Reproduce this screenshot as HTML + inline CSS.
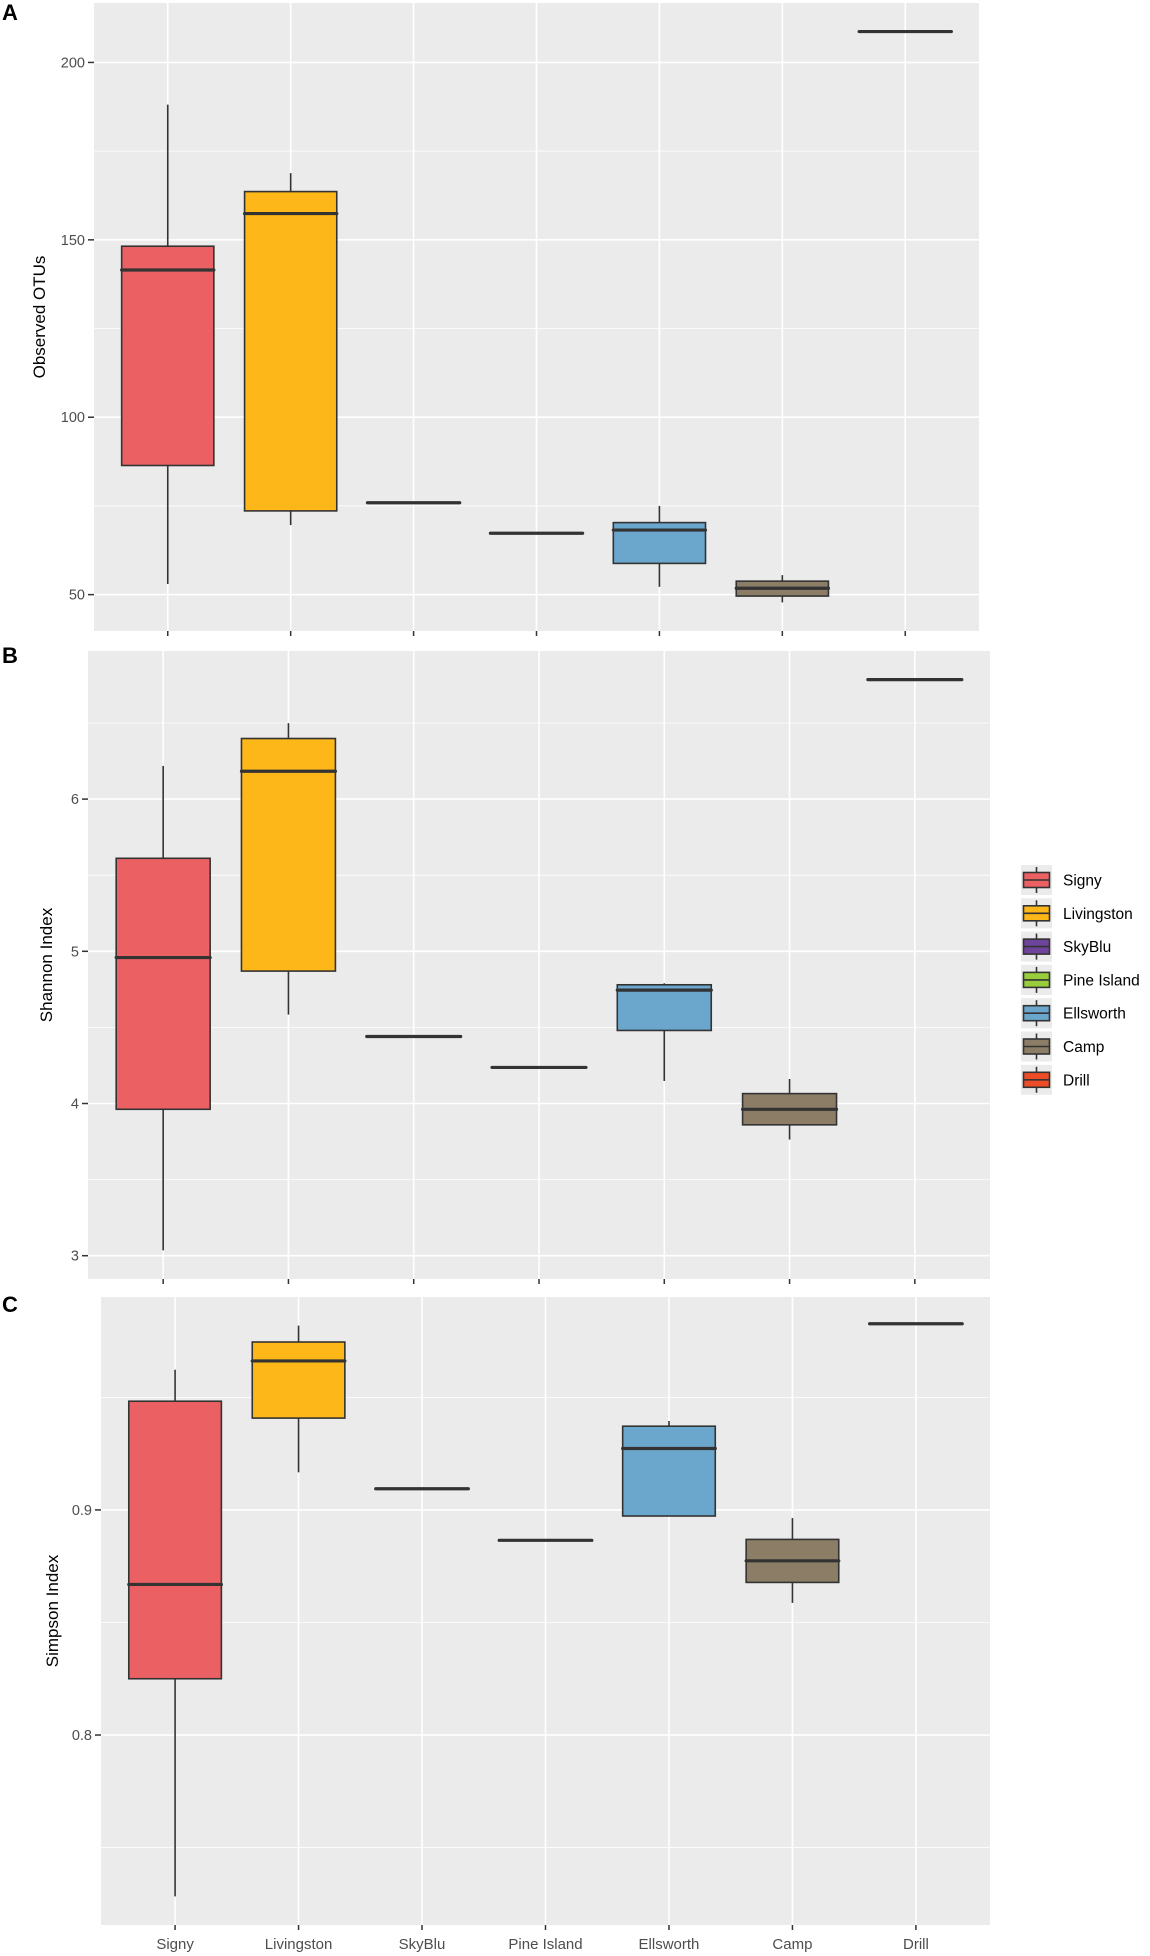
<!DOCTYPE html>
<html><head><meta charset="utf-8">
<style>
html,body{margin:0;padding:0;background:#fff;}
svg{display:block;font-family:"Liberation Sans",sans-serif;}
</style></head>
<body>
<svg id="chart" width="1150" height="1956" viewBox="0 0 1150 1956" xmlns="http://www.w3.org/2000/svg"></svg>
<script>
const categories = ["Signy","Livingston","SkyBlu","Pine Island","Ellsworth","Camp","Drill"];
const colors = ["#EB6063","#FDB718","#6E449B","#9ACD3C","#6BA7CC","#8C7D66","#EE4B27"];
// [lower whisker, Q1, median, Q3, upper whisker]
const otuStats = [
  [53,86.4,141.5,148.2,188.1],
  [69.6,73.6,157.4,163.6,168.8],
  [75.9,75.9,75.9,75.9,75.9],
  [67.3,67.3,67.3,67.3,67.3],
  [52.2,58.8,68.2,70.3,75],
  [47.8,49.6,51.8,53.8,55.5],
  [208.7,208.7,208.7,208.7,208.7]
];
const shannonStats = [
  [3.035,3.962,4.959,5.611,6.218],
  [4.584,4.870,6.183,6.398,6.499],
  [4.44,4.44,4.44,4.44,4.44],
  [4.237,4.237,4.237,4.237,4.237],
  [4.148,4.48,4.745,4.78,4.79],
  [3.763,3.86,3.962,4.065,4.161],
  [6.785,6.785,6.785,6.785,6.785]
];
const simpsonStats = [
  [0.7283,0.825,0.8669,0.9483,0.9623],
  [0.9167,0.9408,0.9662,0.9746,0.9819],
  [0.9094,0.9094,0.9094,0.9094,0.9094],
  [0.8865,0.8865,0.8865,0.8865,0.8865],
  [0.8973,0.8973,0.9273,0.9372,0.9395],
  [0.8587,0.8678,0.8774,0.8869,0.8964],
  [0.9827,0.9827,0.9827,0.9827,0.9827]
];
const otuTicks = [50,100,150,200];
const shannonTicks = [3,4,5,6];
const simpsonTicks = [0.8,0.9];
const simpsonTickLabels = ["0.8","0.9"];

const NS = "http://www.w3.org/2000/svg";
const svg = document.getElementById("chart");
function mk(tag, attrs, parent){
  const e = document.createElementNS(NS, tag);
  for (const k in attrs) e.setAttribute(k, attrs[k]);
  (parent||svg).appendChild(e);
  return e;
}

function panel(cfg){
  const g = mk("g", {});
  
  
  const {left,right,top,bottom,ymin,ymax,stats,ticks,tickLabels} = cfg;
  const n = categories.length;
  const step = (right-left)/(n-1+1.2);
  const xPos = i => left + step*(0.6+i);
  const yPos = v => bottom - (v-ymin)/(ymax-ymin)*(bottom-top);
  const bg = mk("rect",{x:left,y:top,width:right-left,height:bottom-top,fill:"#EBEBEB"},g);
  
  
  // minor grid
  const tstep = ticks[1]-ticks[0];
  const minors = [];
  for (let v = ticks[0]-tstep/2; v <= ymax; v += tstep) if (v>=ymin) minors.push(v);
  minors.forEach(v=>{
    const l = mk("line",{x1:left,x2:right,y1:yPos(v),y2:yPos(v),stroke:"#fff","stroke-width":0.8},g);
    
    
  });
  ticks.forEach((v,i)=>{
    const y = yPos(v);
    const l = mk("line",{x1:left,x2:right,y1:y,y2:y,stroke:"#fff","stroke-width":1.6},g);
    
    
    const tk = mk("line",{x1:left-6,x2:left,y1:y,y2:y,stroke:"#333","stroke-width":1.5},g);
    
    
    const t = mk("text",{x:left-9,y:y+5,"text-anchor":"end","font-size":"14.5",fill:"#4D4D4D"},g);
    t.textContent = tickLabels ? tickLabels[i] : String(v);
    
    
  });
  categories.forEach((c,i)=>{
    const x = xPos(i);
    const l = mk("line",{x1:x,x2:x,y1:top,y2:bottom,stroke:"#fff","stroke-width":1.6},g);
    
    
    const tk = mk("line",{x1:x,x2:x,y1:bottom,y2:bottom+5,stroke:"#333","stroke-width":1.5},g);
    
    
    if (cfg.xlabels){
      const t = mk("text",{x:x,y:bottom+24,"text-anchor":"middle","font-size":"15",fill:"#4D4D4D"},g);
      t.textContent = c;
      
      
    }
  });
  const bw = step*0.75;
  stats.forEach((s,i)=>{
    const x = xPos(i);
    const bg2 = mk("g",{},g);
    
    
    const wh1 = mk("line",{x1:x,x2:x,y1:yPos(s[3]),y2:yPos(s[4]),stroke:"#333","stroke-width":1.6},bg2);
    
    
    const wh2 = mk("line",{x1:x,x2:x,y1:yPos(s[0]),y2:yPos(s[1]),stroke:"#333","stroke-width":1.6},bg2);
    
    
    const r = mk("rect",{x:x-bw/2,y:yPos(s[3]),width:bw,height:Math.max(0,yPos(s[1])-yPos(s[3])),fill:colors[i],stroke:"#333","stroke-width":1.6},bg2);
    
    
    const m = mk("line",{x1:x-bw/2,x2:x+bw/2,y1:yPos(s[2]),y2:yPos(s[2]),stroke:"#333","stroke-width":3.2,"stroke-linecap":"round"},bg2);
    
    
  });
  const ttl = mk("text",{x:0,y:0,"text-anchor":"middle","font-size":"17",fill:"#000",
    transform:`translate(${cfg.titleX},${(top+bottom)/2}) rotate(-90)`},g);
  ttl.textContent = cfg.title;
  
  
  const lt = mk("text",{x:cfg.letterX,y:cfg.letterY,"font-size":"22","font-weight":"bold",fill:"#000"},g);
  lt.textContent = cfg.letter;
  
  
}

panel({name:"panel-a-observed-otus",left:94,right:979,top:3,bottom:631,ymin:39.75,ymax:216.75,stats:otuStats,ticks:otuTicks,title:"Observed OTUs",titleX:45,letter:"A",letterX:2,letterY:20});
panel({name:"panel-b-shannon",left:88,right:990,top:651,bottom:1279,ymin:2.847,ymax:6.973,stats:shannonStats,ticks:shannonTicks,title:"Shannon Index",titleX:52,letter:"B",letterX:2,letterY:663});
panel({name:"panel-c-simpson",left:101,right:990,top:1297,bottom:1925,ymin:0.7156,ymax:0.9946,stats:simpsonStats,ticks:simpsonTicks,tickLabels:simpsonTickLabels,title:"Simpson Index",titleX:58,letter:"C",letterX:2,letterY:1312,xlabels:true});

// legend
const lg = mk("g",{});


categories.forEach((c,i)=>{
  const cy = 880 + i*33.3;
  const e = mk("g",{},lg);
  
  
  const kb = mk("rect",{x:1021,y:cy-15,width:31,height:30,fill:"#EBEBEB"},e);
  
  
  const wl = mk("line",{x1:1036.5,x2:1036.5,y1:cy-13,y2:cy+13,stroke:"#333","stroke-width":1.6},e);
  
  
  const kr = mk("rect",{x:1023.5,y:cy-7.5,width:26,height:15,fill:colors[i],stroke:"#333","stroke-width":1.6},e);
  
  
  const km = mk("line",{x1:1023.5,x2:1049.5,y1:cy,y2:cy,stroke:"#333","stroke-width":1.6},e);
  
  
  const t = mk("text",{x:1063,y:cy+5.5,"font-size":"15.5",fill:"#000"},e);
  t.textContent = c;
  
  
});
</script>
</body></html>
